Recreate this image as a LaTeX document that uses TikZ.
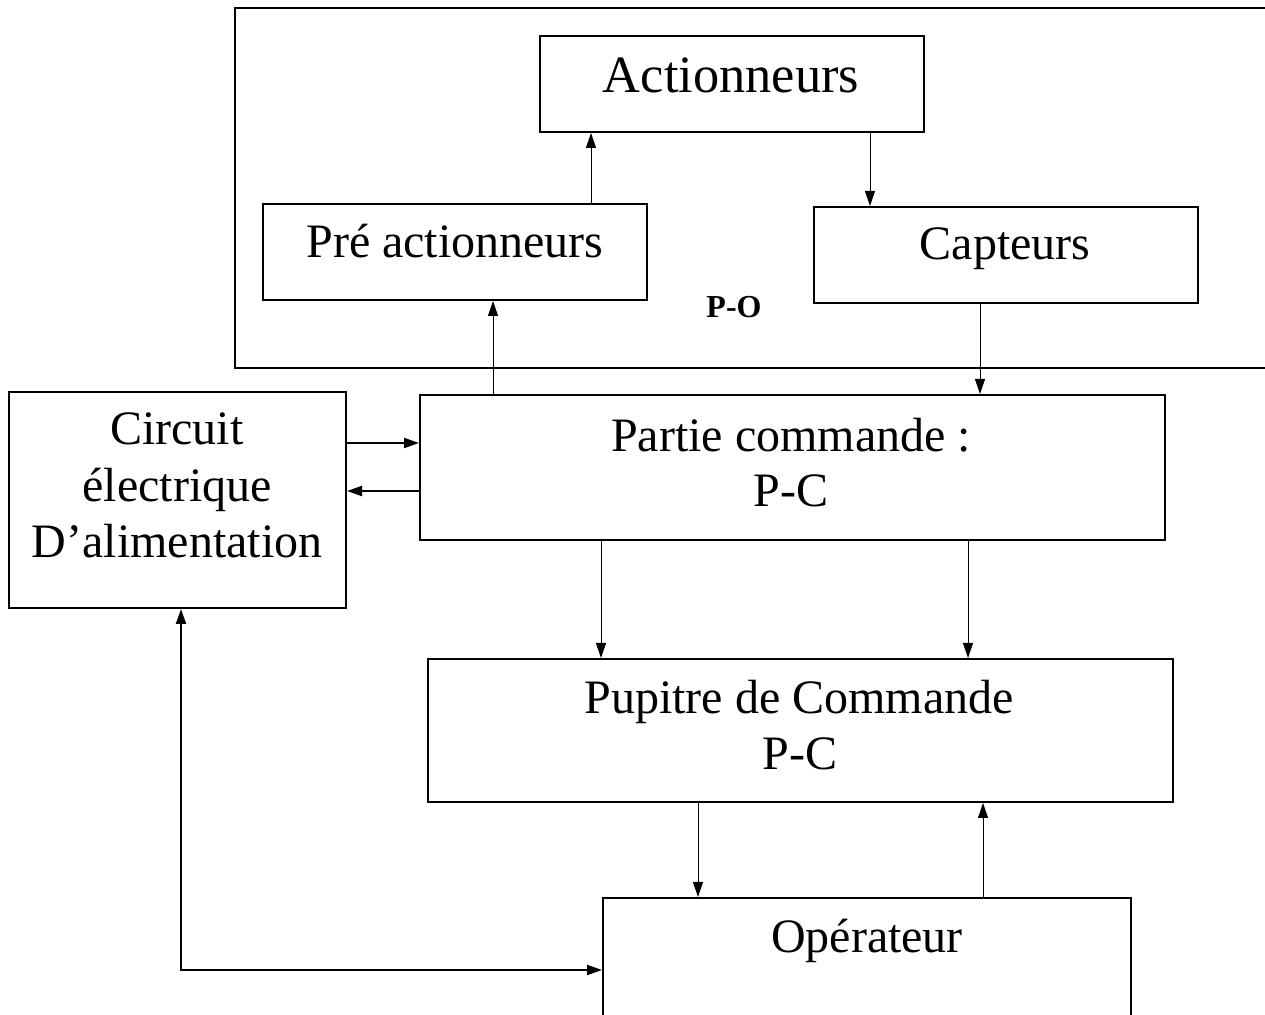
\documentclass[tikz,border=0pt]{standalone}
\usepackage{fontspec}
\setmainfont{Liberation Serif}
\usetikzlibrary{arrows.meta}
\begin{document}
\begin{tikzpicture}[x=0.5pt,y=-0.5pt,
  box/.style={draw, line width=1pt, inner sep=0pt, rectangle},
  lbl/.style={anchor=base, inner sep=0pt, font=\fontsize{24}{28}\selectfont},
  arr/.style={line width=0.5pt, -{Triangle[length=7.5pt,width=5pt]}},
  arrb/.style={line width=1pt, -{Triangle[length=7.5pt,width=5pt]}},
  feed/.style={line width=1pt, {Triangle[length=7.5pt,width=5pt]}-{Triangle[length=7.5pt,width=5pt]}}]
\useasboundingbox (0,0) rectangle (1265,1015);
\clip (0,0) rectangle (1265,1015);
\fill[white] (0,0) rectangle (1265,1015);

% operative part frame (runs past the right edge)
\node[box, minimum width=520pt, minimum height=180pt] (po) at (755,188) {};

% boxes
\node[box, minimum width=192pt, minimum height=48pt] (act) at (732,84) {};
\node[box, minimum width=192pt, minimum height=48pt] (pre) at (455,252) {};
\node[box, minimum width=192pt, minimum height=48pt] (cap) at (1006,255) {};
\node[box, minimum width=372.5pt, minimum height=72.5pt] (pc) at (792.5,467.5) {};
\node[box, minimum width=168.5pt, minimum height=108pt] (circ) at (177.5,500) {};
\node[box, minimum width=372.5pt, minimum height=71.5pt] (pup) at (800.5,730.5) {};
\node[box, minimum width=264pt, minimum height=66pt] (op) at (867,964) {};

% labels
\node[lbl, font=\fontsize{26.2}{30}\selectfont] (tact) at (731,93) {Actionneurs};
\node[lbl] (tpre) at (455,258) {Pré actionneurs};
\node[lbl] (tcap) at (1005,260) {Capteurs};
\node[lbl, font=\fontsize{16}{19}\selectfont\bfseries] (tpo) at (734,318) {P-O};
\node[lbl] (tcirc1) at (177,445) {Circuit};
\node[lbl] (tcirc2) at (177,502) {électrique};
\node[lbl] (tcirc3) at (177,558) {D’alimentation};
\node[lbl] (tpc1) at (791,452) {Partie commande :};
\node[lbl] (tpc2) at (791,507) {P-C};
\node[lbl] (tpup1) at (799,714) {Pupitre de Commande};
\node[lbl] (tpup2) at (800,770) {P-C};
\node[lbl] (top) at (867,953) {Opérateur};

% connectors inside the operative part
\draw[arr] ([xshift=68pt]pre.north) -- ([xshift=68pt]pre.north |- act.south);
\draw[arr] ([xshift=69pt]act.south) -- ([xshift=69pt]act.south |- cap.north);

% operative part <-> control part
\draw[arr] ([xshift=19pt]pre.south |- pc.north) -- ([xshift=19pt]pre.south);
\draw[arr] ([xshift=-13pt]cap.south) -- ([xshift=-13pt]cap.south |- pc.north);

% power circuit <-> control part
\draw[arrb] ([yshift=28.5pt]circ.east) -- ([yshift=28.5pt]circ.east -| pc.west);
\draw[arrb] ([yshift=4.5pt]circ.east -| pc.west) -- ([yshift=4.5pt]circ.east);

% control part -> desk
\draw[arr] ([xshift=-95.75pt]pc.south) -- ([xshift=-95.75pt]pc.south |- pup.north);
\draw[arr] ([xshift=87.75pt]pc.south) -- ([xshift=87.75pt]pc.south |- pup.north);

% desk <-> operator
\draw[arr] ([xshift=-84.5pt]op.north |- pup.south) -- ([xshift=-84.5pt]op.north);
\draw[arr] ([xshift=58pt]op.north) -- ([xshift=58pt]op.north |- pup.south);

% operator <-> power circuit
\draw[feed] ([xshift=1.75pt]circ.south) |- ([yshift=-3pt]op.west);
\end{tikzpicture}
\end{document}
